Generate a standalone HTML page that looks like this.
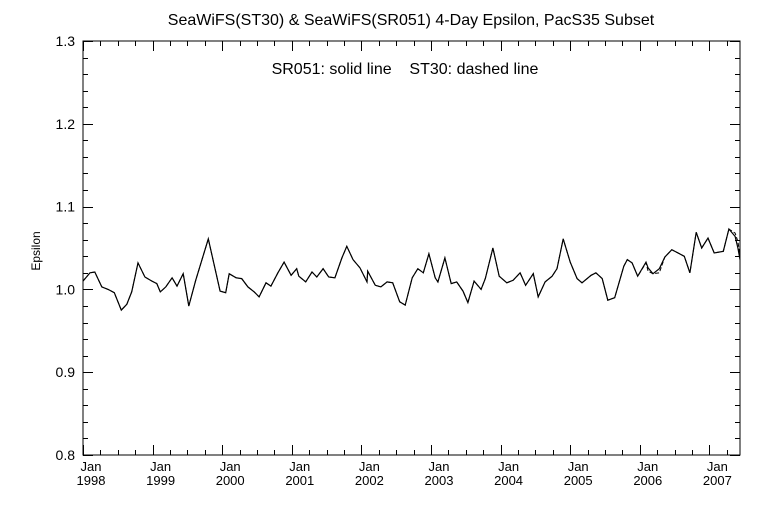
<!DOCTYPE html>
<html><head><meta charset="utf-8"><style>
body{margin:0;background:#fff}
svg text{font-family:"Liberation Sans",sans-serif;fill:#000}
</style></head><body>
<svg id="chart" width="768" height="512" xmlns="http://www.w3.org/2000/svg">
<rect width="768" height="512" fill="#fff"/>
<text x="411" y="25" font-size="16" text-anchor="middle">SeaWiFS(ST30) &amp; SeaWiFS(SR051) 4-Day Epsilon, PacS35 Subset</text>
<text x="405" y="74" font-size="16" text-anchor="middle" xml:space="preserve">SR051: solid line    ST30: dashed line</text>
<text transform="translate(40,251) rotate(-90)" font-size="12" text-anchor="middle">Epsilon</text>
<g id="axes"></g>
<g id="series"></g>
</svg>
<script>
const years = [0,.03,.10,.17,.27,.36,.45,.55,.63,.70,.79,.89,.99,1.06,1.11,1.19,1.28,1.35,1.44,1.52,1.62,1.80,1.97,2.05,2.10,2.20,2.28,2.37,2.46,2.53,2.63,2.70,2.80,2.89,2.99,3.07,3.10,3.20,3.29,3.36,3.45,3.53,3.62,3.72,3.79,3.88,3.98,4.08,4.09,4.20,4.28,4.37,4.45,4.55,4.63,4.73,4.81,4.89,4.97,5.06,5.10,5.20,5.29,5.37,5.46,5.53,5.62,5.72,5.78,5.89,5.98,6.09,6.18,6.28,6.36,6.47,6.54,6.64,6.74,6.81,6.90,7.00,7.10,7.17,7.30,7.37,7.46,7.54,7.64,7.77,7.82,7.89,7.97,8.09,8.12,8.19,8.28,8.36,8.46,8.55,8.64,8.72,8.81,8.89,8.98,9.07,9.20,9.28,9.37,9.41,9.44];
const sr051 = [1.010,1.013,1.020,1.021,1.003,1.000,0.996,0.975,0.982,0.997,1.032,1.015,1.010,1.007,0.997,1.003,1.014,1.004,1.019,0.980,1.011,1.061,0.998,0.996,1.019,1.014,1.013,1.003,0.997,0.991,1.008,1.004,1.020,1.033,1.017,1.025,1.016,1.009,1.021,1.015,1.025,1.015,1.014,1.038,1.052,1.036,1.026,1.009,1.022,1.005,1.003,1.009,1.008,0.985,0.981,1.014,1.025,1.020,1.043,1.014,1.009,1.038,1.007,1.009,0.998,0.984,1.010,1.000,1.013,1.050,1.016,1.008,1.011,1.020,1.005,1.019,0.991,1.009,1.016,1.025,1.061,1.033,1.013,1.008,1.017,1.020,1.013,0.987,0.990,1.028,1.036,1.032,1.016,1.033,1.026,1.019,1.025,1.039,1.048,1.044,1.040,1.020,1.069,1.050,1.062,1.044,1.046,1.073,1.064,1.050,1.036];
const st30 = [1.010,1.013,1.020,1.021,1.003,1.000,0.996,0.975,0.982,0.997,1.032,1.015,1.010,1.007,0.997,1.003,1.014,1.004,1.019,0.980,1.011,1.061,0.998,0.996,1.019,1.014,1.013,1.003,0.997,0.991,1.008,1.004,1.020,1.033,1.017,1.025,1.016,1.009,1.021,1.015,1.025,1.015,1.014,1.038,1.052,1.036,1.026,1.009,1.022,1.005,1.003,1.009,1.008,0.985,0.981,1.014,1.025,1.020,1.043,1.014,1.009,1.038,1.007,1.009,0.998,0.984,1.010,1.000,1.013,1.050,1.016,1.008,1.011,1.020,1.005,1.019,0.991,1.009,1.016,1.025,1.061,1.033,1.013,1.008,1.017,1.020,1.013,0.987,0.990,1.028,1.036,1.032,1.016,1.032,1.022,1.019,1.020,1.039,1.048,1.044,1.040,1.020,1.069,1.050,1.062,1.044,1.046,1.073,1.068,1.058,1.040];
const yTicks = [0.8,0.9,1.0,1.1,1.2,1.3];
const yTickLabels = ["0.8","0.9","1.0","1.1","1.2","1.3"];
const xTickYears = [1998,1999,2000,2001,2002,2003,2004,2005,2006,2007];

const NS="http://www.w3.org/2000/svg";
const L=83,R=740,T=41,B=455, X0=1998, X1=2007.44, Y0=0.8, Y1=1.3;
const xs=t=>L+(t-X0)/(X1-X0)*(R-L);
const ys=v=>B-(v-Y0)/(Y1-Y0)*(B-T);
const axes=document.getElementById('axes'), ser=document.getElementById('series');
function mk(tag,attrs,parent){const e=document.createElementNS(NS,tag);for(const k in attrs)e.setAttribute(k,attrs[k]);parent.appendChild(e);return e;}
let frame=mk('rect',{x:L,y:T,width:R-L,height:B-T,fill:'none',stroke:'#000','stroke-width':1},axes);


let d='';
for(let v=0.8;v<=1.3001;v+=0.02){const y=Math.round(ys(v))+.5;const major=Math.abs(v*10-Math.round(v*10))<1e-6;const len=major?10:5;d+=`M${L},${y}h${len}M${R},${y}h${-len}`;}
for(let q=0;q*0.25<=X1-X0;q++){const t=X0+q*0.25;const x=Math.round(xs(t))+.5;const len=q%4===0?10:5;d+=`M${x},${B}v${-len}M${x},${T}v${len}`;}
let tk=mk('path',{d:d,stroke:'#000','stroke-width':1,fill:'none'},axes);


yTicks.forEach((v,i)=>{const t=mk('text',{x:L-8,y:ys(v)+5,'font-size':14,'text-anchor':'end'},axes);t.textContent=yTickLabels[i];

});
xTickYears.forEach(yr=>{const x=xs(yr)+8;const a=mk('text',{x:x,y:471,'font-size':13,'text-anchor':'middle'},axes);a.textContent='Jan';


const b=mk('text',{x:x,y:485,'font-size':13,'text-anchor':'middle'},axes);b.textContent=String(yr);

});
function pts(arr){return years.map((t,i)=>xs(X0+t).toFixed(1)+','+ys(arr[i]).toFixed(1)).join(' ');}
let p2=mk('polyline',{points:pts(st30),fill:'none',stroke:'#000','stroke-width':1,'stroke-dasharray':'4,2'},ser);


let p1=mk('polyline',{points:pts(sr051),fill:'none',stroke:'#000','stroke-width':1.2},ser);


</script>
</body></html>
